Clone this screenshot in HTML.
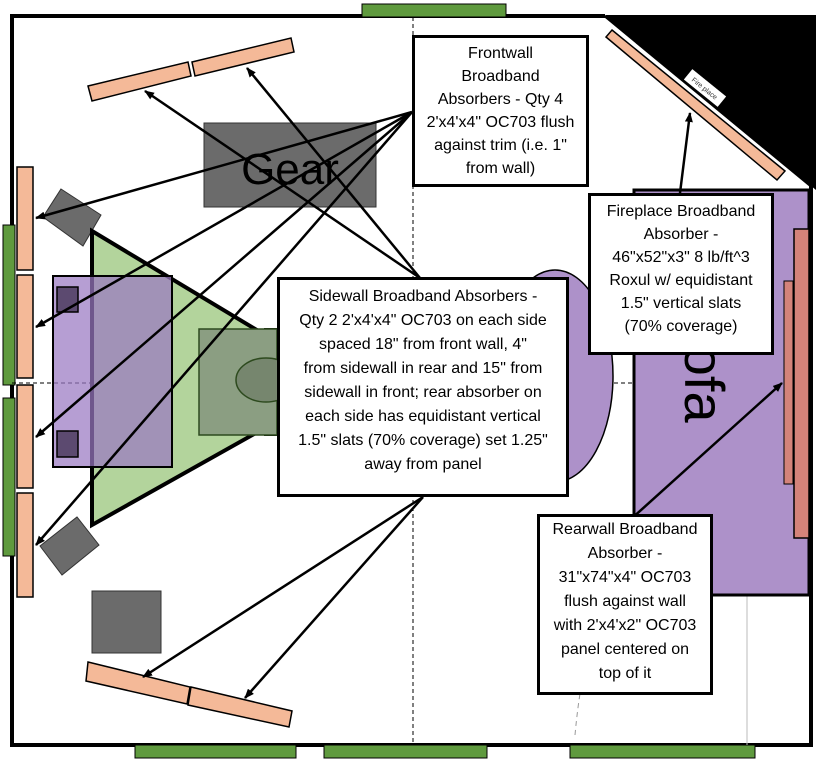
<!DOCTYPE html>
<html><head><meta charset="utf-8"><style>
html,body{margin:0;padding:0;background:#fff;}
#w{position:relative;width:816px;height:762px;overflow:hidden;font-family:"Liberation Sans",sans-serif;}
svg{position:absolute;left:0;top:0;}
.b{position:absolute;background:#fff;border:3px solid #000;box-sizing:border-box;text-align:center;font-size:16px;line-height:23px;color:#000;}
</style></head><body><div id="w">
<svg width="816" height="762" viewBox="0 0 816 762">
<defs><marker id="a" markerWidth="10" markerHeight="8" refX="9" refY="4" orient="auto" markerUnits="userSpaceOnUse"><path d="M0,0 L10,4 L0,8 z" fill="#000"/></marker></defs>
<polygon points="605,15 816,15 816,190" fill="#000"/>
<polyline points="605,16 12,16 12,745 811,745 811,186" fill="none" stroke="#000" stroke-width="4"/>
<line x1="605" y1="16" x2="811" y2="186" stroke="#000" stroke-width="3"/>
<rect x="362" y="4" width="144" height="13" fill="#5f9a3e" stroke="#000" stroke-width="1"/>
<rect x="3" y="225" width="12" height="160" fill="#5f9a3e" stroke="#000" stroke-width="1"/>
<rect x="3" y="398" width="12" height="158" fill="#5f9a3e" stroke="#000" stroke-width="1"/>
<rect x="135" y="745" width="161" height="13" fill="#5f9a3e" stroke="#000" stroke-width="1"/>
<rect x="324" y="745" width="163" height="13" fill="#5f9a3e" stroke="#000" stroke-width="1"/>
<rect x="570" y="745" width="185" height="13" fill="#5f9a3e" stroke="#000" stroke-width="1"/>
<line x1="413" y1="17" x2="413" y2="745" stroke="#000" stroke-width="1" stroke-dasharray="4,3"/>
<line x1="12" y1="383" x2="811" y2="383" stroke="#000" stroke-width="1" stroke-dasharray="4,3"/>
<path d="M575,735 Q580,680 590,650" fill="none" stroke="#999" stroke-width="1" stroke-dasharray="5,4"/>
<line x1="747" y1="595" x2="747" y2="745" stroke="#bbb" stroke-width="1"/>
<rect x="17" y="167" width="16" height="103" fill="#f4b998" stroke="#000" stroke-width="1.5"/>
<rect x="17" y="275" width="16" height="103" fill="#f4b998" stroke="#000" stroke-width="1.5"/>
<rect x="17" y="385" width="16" height="103" fill="#f4b998" stroke="#000" stroke-width="1.5"/>
<rect x="17" y="493" width="16" height="104" fill="#f4b998" stroke="#000" stroke-width="1.5"/>
<polygon points="88,86 188,62 191,76 92,101" fill="#f4b998" stroke="#000" stroke-width="1.5"/>
<polygon points="192,62 291,38 294,52 195,76" fill="#f4b998" stroke="#000" stroke-width="1.5"/>
<polygon points="88,662 190,687 187,704 86,681" fill="#f4b998" stroke="#000" stroke-width="1.5"/>
<polygon points="191,687 292,711 289,727 188,705" fill="#f4b998" stroke="#000" stroke-width="1.5"/>
<polygon points="612,30 785,171 777,180 606,37" fill="#f4b998" stroke="#000" stroke-width="1.5"/>
<g transform="translate(705,88) rotate(39)"><rect x="-22" y="-7" width="44" height="14" fill="#fff" stroke="#000" stroke-width="0.5"/><text x="0" y="3" font-size="7" text-anchor="middle" font-family="Liberation Sans,sans-serif" fill="#333">Fire place</text></g>
<rect x="204" y="123" width="172" height="84" fill="#6b6b6b" stroke="#333" stroke-width="1"/>
<text x="290" y="184" font-size="44" text-anchor="middle" font-family="Liberation Sans,sans-serif" fill="#000">Gear</text>
<polygon points="61,189 101,215 83,246 43,217" fill="#6b6b6b" stroke="#333" stroke-width="1"/>
<polygon points="40,546 77,517 99,545 62,575" fill="#6b6b6b" stroke="#333" stroke-width="1"/>
<rect x="92" y="591" width="69" height="62" fill="#6b6b6b" stroke="#333" stroke-width="1"/>
<ellipse cx="555" cy="376" rx="58" ry="106" fill="#ad91c9" stroke="#000" stroke-width="1.5"/>
<rect x="265" y="329" width="30" height="106" fill="#ad91c9" stroke="#000" stroke-width="2"/>
<polygon points="92,231 345,383 92,525" fill="#b3d49c" stroke="#000" stroke-width="4"/>
<rect x="199" y="329" width="78" height="106" fill="#8b9e82" stroke="#2d4a1e" stroke-width="1.5"/>
<ellipse cx="266" cy="380" rx="30" ry="22" fill="#76866e" stroke="#2d4a1e" stroke-width="1.5"/>
<rect x="53" y="276" width="119" height="191" fill="#9a78c2" fill-opacity="0.72" stroke="#000" stroke-width="2"/>
<rect x="57" y="287" width="21" height="25" fill="#5c4a70" stroke="#000" stroke-width="1.5"/>
<rect x="57" y="431" width="21" height="26" fill="#5c4a70" stroke="#000" stroke-width="1.5"/>
<rect x="634" y="190" width="175" height="405" fill="#ad91c9" stroke="#000" stroke-width="3"/>
<text transform="translate(685,365) rotate(90)" font-size="56" text-anchor="middle" font-family="Liberation Sans,sans-serif" fill="#000">Sofa</text>
<rect x="794" y="229" width="15" height="309" fill="#d4837a" stroke="#000" stroke-width="1.5"/>
<rect x="784" y="281" width="9" height="203" fill="#d4837a" stroke="#000" stroke-width="1"/>
<g stroke="#000" stroke-width="2.5" fill="none" marker-end="url(#a)">
<line x1="412" y1="112" x2="36" y2="218"/>
<line x1="412" y1="112" x2="36" y2="327"/>
<line x1="412" y1="112" x2="36" y2="437"/>
<line x1="412" y1="112" x2="36" y2="545"/>
<line x1="420" y1="278" x2="145" y2="91"/>
<line x1="420" y1="278" x2="247" y2="68"/>
<line x1="423" y1="497" x2="143" y2="677"/>
<line x1="423" y1="497" x2="245" y2="698"/>
<line x1="680" y1="193" x2="690" y2="113"/>
<line x1="630" y1="520" x2="782" y2="383"/>
</g>
</svg>
<div class="b" style="left:412px;top:35px;width:177px;height:152px;padding-top:4px;">Frontwall<br>Broadband<br>Absorbers - Qty 4<br>2'x4'x4" OC703 flush<br>against trim (i.e. 1"<br>from wall)</div>
<div class="b" style="left:588px;top:193px;width:186px;height:162px;padding-top:4px;">Fireplace Broadband<br>Absorber -<br>46"x52"x3" 8 lb/ft^3<br>Roxul w/ equidistant<br>1.5" vertical slats<br>(70% coverage)</div>
<div class="b" style="left:277px;top:277px;width:292px;height:220px;padding-top:5px;line-height:24px;">Sidewall Broadband Absorbers -<br>Qty 2 2'x4'x4" OC703 on each side<br>spaced 18" from front wall, 4"<br>from sidewall in rear and 15" from<br>sidewall in front; rear absorber on<br>each side has equidistant vertical<br>1.5" slats (70% coverage) set 1.25"<br>away from panel</div>
<div class="b" style="left:537px;top:514px;width:176px;height:181px;padding-top:1px;line-height:24px;">Rearwall Broadband<br>Absorber -<br>31"x74"x4" OC703<br>flush against wall<br>with 2'x4'x2" OC703<br>panel centered on<br>top of it</div>
</div></body></html>
